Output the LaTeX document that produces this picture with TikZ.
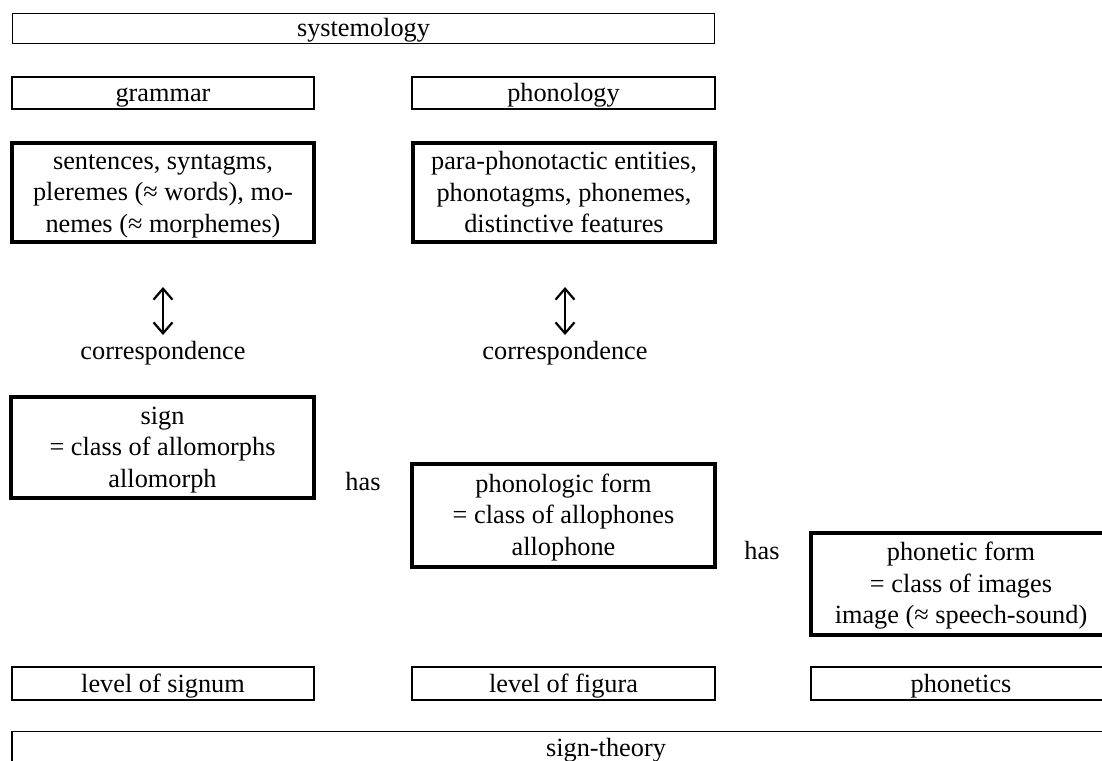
\documentclass[tikz,border=0pt]{standalone}
\usepackage{fontspec}
\setmainfont{Liberation Serif}
\usetikzlibrary{arrows.meta}
\newcommand\ls{\rule[-5pt]{0pt}{27pt}}
\tikzset{
  thinbox/.style={draw, line width=1.3pt, inner sep=0pt, align=center, text height=22pt, text depth=5pt},
  thickbox/.style={draw, line width=4pt, inner sep=0pt, align=center},
  plain/.style={inner sep=0pt, align=center},
  corrarrow/.style={line width=2.2pt, {Straight Barb[length=11pt,width=19pt,line width=2.2pt]}-{Straight Barb[length=11pt,width=19pt,line width=2.2pt]}}
}
\begin{document}
\begin{tikzpicture}[x=1pt,y=-1pt,font=\fontsize{26.3}{31.5}\selectfont]
\useasboundingbox (0,0) rectangle (1102,760);
\clip (0,0) rectangle (1102,760);
\node[thinbox, minimum width=702pt, minimum height=30pt] (sys) at (363.5,28.5) {systemology};
\node[thinbox, minimum width=302pt, minimum height=32pt] (gram) at (163,93) {grammar};
\node[thinbox, minimum width=303pt, minimum height=32pt] (phon) at (563.5,93) {phonology};
\node[thickbox, minimum width=302pt, minimum height=99pt] (units1) at (163,192.5) {\ls sentences, syntagms,\\\ls pleremes (≈ words), mo-\\\ls nemes (≈ morphemes)};
\node[thickbox, minimum width=302pt, minimum height=99pt] (units2) at (564,192.5) {\ls para-phonotactic entities,\\\ls phonotagms, phonemes,\\\ls distinctive features};
\coordinate (a1t) at (163,287);
\coordinate (a1b) at (163,335);
\coordinate (a2t) at (565,287);
\coordinate (a2b) at (565,335);
\draw[corrarrow] (a1t) -- (a1b);
\draw[corrarrow] (a2t) -- (a2b);
\node[plain, anchor=base] (corr1) at (163,359) {correspondence};
\node[plain, anchor=base] (corr2) at (565,359) {correspondence};
\node[thickbox, minimum width=303pt, minimum height=101pt] (sign) at (162.5,447.5) {\ls sign\\\ls = class of allomorphs\\\ls allomorph};
\node[plain, anchor=base] (has1) at (363,490) {has};
\node[thickbox, minimum width=303pt, minimum height=103pt] (pform) at (563.5,515.5) {\ls phonologic form\\\ls = class of allophones\\\ls allophone};
\node[plain, anchor=base] (has2) at (762,559) {has};
\node[thickbox, minimum width=300pt, minimum height=102pt] (phform) at (961,584) {\ls phonetic form\\\ls = class of images\\\ls image (≈ speech-sound)};
\node[thinbox, minimum width=302pt, minimum height=33pt] (lsig) at (163,683.5) {level of signum};
\node[thinbox, minimum width=303pt, minimum height=33pt] (lfig) at (563.5,683.5) {level of figura};
\node[thinbox, minimum width=300pt, minimum height=33pt] (phonetics) at (961,683.5) {phonetics};
\node[thinbox, minimum width=1188pt, minimum height=33pt] (st) at (606,748) {sign-theory};
\end{tikzpicture}
\end{document}
